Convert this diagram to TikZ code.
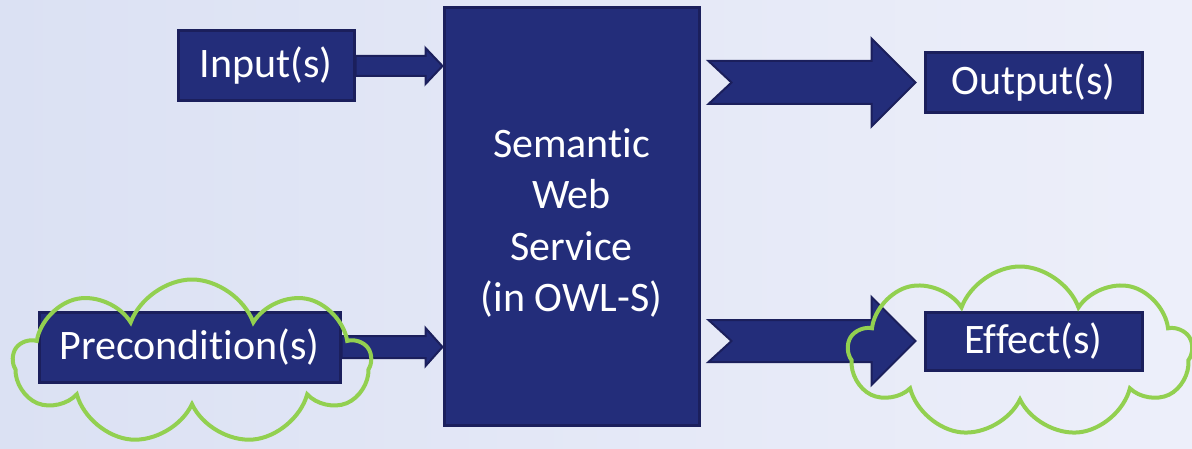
\documentclass[tikz,border=0pt]{standalone}
\usepackage{fontspec}
\setmainfont[Ligatures=NoCommon]{Carlito}
\usetikzlibrary{calc,shapes.symbols,positioning}
\definecolor{boxblue}{RGB}{35,45,122}
\definecolor{boxedge}{RGB}{27,31,92}
\definecolor{cloudgreen}{RGB}{146,208,80}
\definecolor{bgleft}{RGB}{219,225,243}
\definecolor{bgright}{RGB}{237,239,250}
% block arrow: from, to, shaft half, head half, head length, tail notch
\newcommand{\fatarrow}[6]{%
  \draw[fat] ($(#1)+(0,#3)$) -- ($(#2)+(-#5,#3)$) -- ($(#2)+(-#5,#4)$) -- (#2)
    -- ($(#2)+(-#5,-#4)$) -- ($(#2)+(-#5,-#3)$) -- ($(#1)+(0,-#3)$)
    -- ($(#1)+(#6,0)$) -- cycle;}
\begin{document}
\begin{tikzpicture}[x=0.5pt, y=-0.5pt,
  box/.style = {draw=boxedge, line width=1.5pt, fill=boxblue, text=white,
    font=\fontsize{21}{25.75}\selectfont, inner sep=0pt},
  fat/.style = {draw=boxedge, line width=1pt, fill=boxblue, line join=miter},
  puff/.style = {cloud, cloud puffs=9, cloud puff arc=140, cloud ignores aspect,
    draw=cloudgreen, line width=2pt}]
\shade[left color=bgleft, right color=bgright] (0,0) rectangle (1192,449);
\path[use as bounding box] (0,0) rectangle (1192,449);
\node[box, minimum width=127.5pt, minimum height=208.5pt, align=center] (sws) at (571.5,216.5)
  {\rule{0pt}{21pt}Semantic\\Web\\Service\\(in OWL-S)};
\node[box, minimum width=88pt, minimum height=35pt] (inp) at (266,66) {Input(s)};
\node[box, minimum width=150.5pt, minimum height=35pt] (pre) at (189.5,347) {Precondition(s)};
\node[box, minimum width=108.5pt, minimum height=29.5pt] (out) at (1033.5,82.5) {Output(s)};
\node[box, minimum width=108.5pt, minimum height=29pt] (eff) at (1033.5,341) {Effect(s)};
\coordinate (ie) at (sws.west |- inp.east);
\coordinate (pe) at (sws.west |- pre.east);
\coordinate (os) at ($(sws.east |- out.west)+(8,0)$);
\coordinate (ot) at ($(out.west)+(-8,0)$);
\coordinate (es) at ($(sws.east |- eff.west)+(8,0)$);
\coordinate (et) at ($(eff.west)+(-8,0)$);
\fatarrow{inp.east}{ie}{10}{18}{17}{0}
\fatarrow{pre.east}{pe}{11}{19}{17}{0}
\fatarrow{os}{ot}{21.5}{44}{44}{23}
\fatarrow{es}{et}{21}{44}{44}{23}
\node[puff, minimum width=178.5pt, minimum height=82.5pt] (precl) at (192,362) {};
\node[puff, minimum width=172pt, minimum height=85.5pt] (effcl) at (1020,352) {};
\end{tikzpicture}
\end{document}
